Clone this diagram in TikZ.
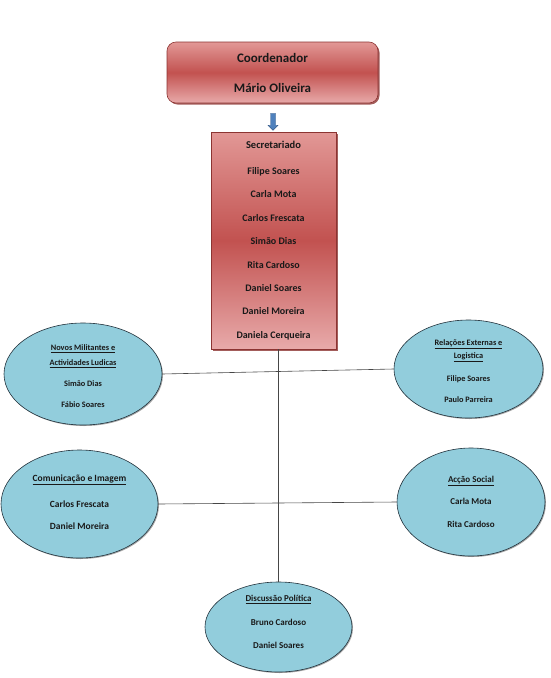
\documentclass[tikz,border=0pt]{standalone}
\usepackage{fontspec}
\setmainfont{Carlito}
\usetikzlibrary{shapes.geometric,shapes.arrows,shadows}
\definecolor{redtop}{RGB}{226,152,150}
\definecolor{redmid}{RGB}{194,82,80}
\definecolor{redbot}{RGB}{232,170,170}
\definecolor{redline}{RGB}{140,52,50}
\definecolor{ellfill}{RGB}{146,205,220}
\definecolor{ellline}{RGB}{35,50,60}
\definecolor{arrfill}{RGB}{79,129,189}
\definecolor{arrline}{RGB}{56,93,138}
\definecolor{conn}{RGB}{70,70,70}
\tikzset{
  redbox/.style={draw=redline, line width=0.6pt, top color=redtop, bottom color=redbot, middle color=redmid,
    drop shadow={shadow xshift=1.5pt, shadow yshift=-1.5pt, fill=redline, opacity=0.8},
    align=center, inner sep=0pt, text=black!90},
  ell/.style={ellipse, draw=ellline, line width=0.6pt, fill=ellfill,
    drop shadow={shadow xshift=1pt, shadow yshift=-1pt, fill=black, opacity=0.35}, inner sep=0pt},
  etxt/.style={align=center, inner sep=0pt, font=\bfseries, text=black!90},
  connector/.style={draw=conn, line width=0.6pt},
}
\begin{document}
\begin{tikzpicture}[x=1pt,y=-1pt]
\useasboundingbox (0,0) rectangle (550,678);
% Coordenador
\node[redbox, rounded corners=9pt, minimum width=211pt, minimum height=61pt,
  font=\fontsize{13}{30}\selectfont\bfseries] (coord) at (272.5,72.5)
  {Coordenador\\Mário Oliveira};
% arrow
\node[single arrow, shape border rotate=270, draw=arrline, fill=arrfill, line width=0.4pt,
  minimum width=10pt, minimum height=17pt, single arrow head extend=2.5pt,
  single arrow head indent=0pt, inner sep=2.3pt] (arr) at (273,120.5) {};
% Secretariado
\node[redbox, minimum width=125pt, minimum height=217pt,
  font=\fontsize{10}{23.4}\selectfont\bfseries] (sec) at (273.5,240.5)
  {{\fontsize{10.5}{23.4}\selectfont Secretariado}\\[2.6pt]Filipe Soares\\Carla Mota\\Carlos Frescata\\Simão Dias\\Rita Cardoso\\Daniel Soares\\Daniel Moreira\\Daniela Cerqueira};
% Ellipses
\node[ell, minimum width=158pt, minimum height=102pt] (nm) at (83,374) {};
\node[etxt, font=\fontsize{8.3}{15}\selectfont\bfseries] (nmt) at (83,376)
  {\underline{Novos Militantes e}\\\underline{Actividades Ludicas}\\[6pt]Simão Dias\\[6pt]Fábio Soares};
\node[ell, minimum width=149pt, minimum height=98pt] (re) at (468.5,369) {};
\node[etxt, font=\fontsize{8.3}{13}\selectfont\bfseries] (ret) at (468.5,371)
  {\underline{Relações Externas e}\\\underline{Logistica}\\[10pt]Filipe Soares\\[8pt]Paulo Parreira};
\node[ell, minimum width=157pt, minimum height=108pt] (ci) at (79.5,504) {};
\node[etxt, font=\fontsize{9.5}{24}\selectfont\bfseries] (cit) at (79.5,502)
  {\underline{Comunicação e Imagem}\\[2pt]Carlos Frescata\\[-2pt]Daniel Moreira};
\node[ell, minimum width=148pt, minimum height=108pt] (as) at (471,502) {};
\node[etxt, font=\fontsize{9}{22.5}\selectfont\bfseries] (ast) at (471,501.5)
  {\underline{Acção Social}\\Carla Mota\\Rita Cardoso};
\node[ell, minimum width=147pt, minimum height=90pt] (dp) at (278.5,627) {};
\node[etxt, font=\fontsize{9}{23.5}\selectfont\bfseries] (dpt) at (278.5,622)
  {\underline{Discussão Política}\\Bruno Cardoso\\Daniel Soares};
% connectors
\coordinate (vtop) at (dp.north |- sec.south);
\draw[connector] (vtop) -- (dp.north);
\draw[connector] (nm.east) -- (re.west);
\draw[connector] (ci.east) -- (as.west);
\end{tikzpicture}
\end{document}
